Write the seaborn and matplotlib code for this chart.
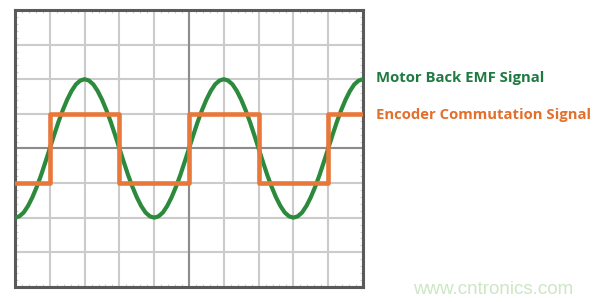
import numpy as np
import pandas as pd
import matplotlib
matplotlib.use("Agg")
import matplotlib.pyplot as plt
import seaborn as sns

# --- data (x in grid divisions, y in divisions) ---
emf_x = [round(0.125 * i, 3) for i in range(81)]
emf_y = [-2.00, -1.96, -1.85, -1.66, -1.41, -1.11, -0.77, -0.39,
         0.00, 0.39, 0.77, 1.11, 1.41, 1.66, 1.85, 1.96,
         2.00, 1.96, 1.85, 1.66, 1.41, 1.11, 0.77, 0.39,
         0.00, -0.39, -0.77, -1.11, -1.41, -1.66, -1.85, -1.96,
         -2.00, -1.96, -1.85, -1.66, -1.41, -1.11, -0.77, -0.39,
         0.00, 0.39, 0.77, 1.11, 1.41, 1.66, 1.85, 1.96,
         2.00, 1.96, 1.85, 1.66, 1.41, 1.11, 0.77, 0.39,
         0.00, -0.39, -0.77, -1.11, -1.41, -1.66, -1.85, -1.96,
         -2.00, -1.96, -1.85, -1.66, -1.41, -1.11, -0.77, -0.39,
         0.00, 0.39, 0.77, 1.11, 1.41, 1.66, 1.85, 1.96,
         2.00]
enc_x = [0, 1, 3, 5, 7, 9, 10]
enc_y = [-1, 1, -1, 1, -1, 1, 1]
labels = ["Motor Back EMF Signal", "Encoder Commutation Signal"]
watermark = "www.cntronics.com"

GREEN = "#2b8a3c"
ORANGE = "#e8773a"

sns.set_style("white")
fig = plt.figure(figsize=(6.0, 3.02), dpi=100)
ax = fig.add_axes([0.025, 0.05, 0.58, 0.917])

emf = pd.DataFrame({"x": emf_x, "y": emf_y})
enc = pd.DataFrame({"x": enc_x, "y": enc_y})

ax.set_xlim(0, 10)
ax.set_ylim(-4, 4)
ax.set_xticks(range(0, 11))
ax.set_yticks(range(-4, 5))
ax.set_xticks(np.arange(0, 10.01, 0.2), minor=True)
ax.set_yticks(np.arange(-4, 4.01, 0.2), minor=True)
ax.grid(True, which="major", color="#cbcbcb", lw=1.5, zorder=0)
ax.tick_params(which="major", length=0, labelbottom=False, labelleft=False)
ax.tick_params(which="minor", direction="in", length=2.5, color="#d0d0d0",
               width=0.8, top=True, right=True, bottom=True, left=True)
ax.axvline(5, color="#8c8c8c", lw=1.5, zorder=1)
ax.axhline(0, color="#8c8c8c", lw=1.5, zorder=1)
for s in ax.spines.values():
    s.set_color("#5a5a5a")
    s.set_linewidth(2.2)
    s.set_visible(True)

sns.lineplot(data=emf, x="x", y="y", ax=ax, color=GREEN, lw=3.0,
             zorder=3, clip_on=True)
sns.lineplot(data=enc, x="x", y="y", ax=ax, color=ORANGE, lw=3.3,
             drawstyle="steps-post", zorder=4, clip_on=True)
ax.set_xlabel("")
ax.set_ylabel("")

fig.text(376 / 600, 1 - 78 / 302, labels[0], color="#1f7a42",
         fontsize=10.7, fontweight="bold", family="Open Sans", va="center")
fig.text(376 / 600, 1 - 115 / 302, labels[1], color="#e36f2c",
         fontsize=10.7, fontweight="bold", family="Open Sans", va="center")
fig.text(413 / 600, 1 - 289 / 302, watermark, color="#cde6c4",
         fontsize=13.5, family="Liberation Sans", va="center")

fig.savefig("out.png", dpi=100, facecolor="white")
